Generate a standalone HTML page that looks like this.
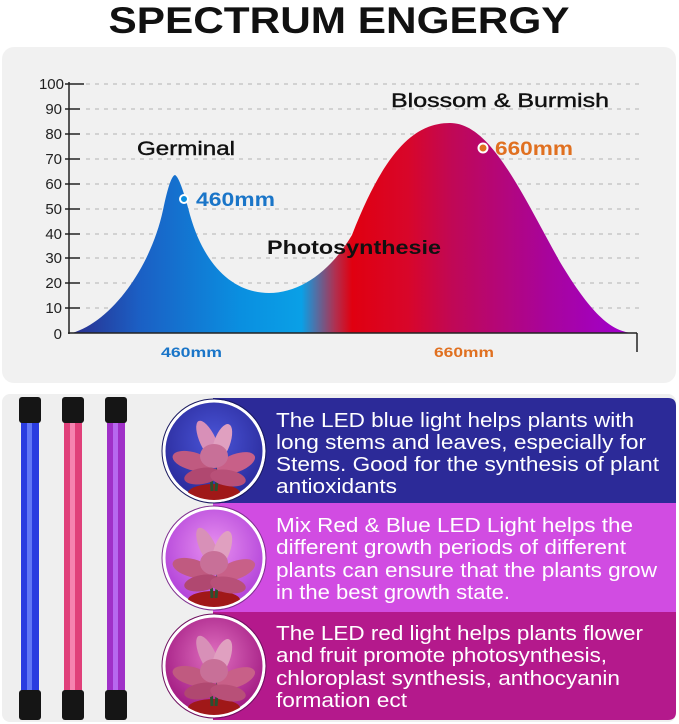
<!DOCTYPE html>
<html><head><meta charset="utf-8"><style>
html,body{margin:0;padding:0;background:#fff;width:679px;height:724px;overflow:hidden}
svg{display:block}
</style></head><body>
<svg width="679" height="724" viewBox="0 0 679 724" font-family="Liberation Sans, Arial, sans-serif">
<defs>
<linearGradient id="spec" x1="72" y1="0" x2="632" y2="0" gradientUnits="userSpaceOnUse">
<stop offset="0" stop-color="#2a2f8e"/>
<stop offset="0.12" stop-color="#1b5fc4"/>
<stop offset="0.3" stop-color="#0a8fe0"/>
<stop offset="0.41" stop-color="#0aa0e6"/>
<stop offset="0.47" stop-color="#b03050"/>
<stop offset="0.5" stop-color="#e00010"/>
<stop offset="0.6" stop-color="#d8062a"/>
<stop offset="0.68" stop-color="#c00856"/>
<stop offset="0.85" stop-color="#a8049c"/>
<stop offset="1" stop-color="#a000d0"/>
</linearGradient>
<radialGradient id="c1" cx="0.5" cy="0.4" r="0.6"><stop offset="0" stop-color="#4a55d8"/><stop offset="1" stop-color="#2a2a9a"/></radialGradient>
<radialGradient id="c2" cx="0.5" cy="0.4" r="0.6"><stop offset="0" stop-color="#e890f0"/><stop offset="1" stop-color="#b040d8"/></radialGradient>
<radialGradient id="c3" cx="0.5" cy="0.4" r="0.6"><stop offset="0" stop-color="#e070c0"/><stop offset="1" stop-color="#a01880"/></radialGradient>
<clipPath id="k1"><circle cx="214" cy="451" r="49"/></clipPath>
<clipPath id="k2"><circle cx="214" cy="558" r="49"/></clipPath>
<clipPath id="k3"><circle cx="214" cy="666" r="49"/></clipPath>
<g id="plant">
<ellipse cx="0" cy="42" rx="26" ry="9" fill="#a01818"/>
<path d="M-2,40 L-4,0 M2,40 L6,-5" stroke="#2a5030" stroke-width="3"/>
<ellipse cx="-22" cy="10" rx="20" ry="9" fill="#c05a80" transform="rotate(15 -22 10)"/>
<ellipse cx="22" cy="12" rx="20" ry="9" fill="#c86088" transform="rotate(-20 22 12)"/>
<ellipse cx="-12" cy="25" rx="18" ry="8" fill="#b04870" transform="rotate(-10 -12 25)"/>
<ellipse cx="14" cy="27" rx="18" ry="8" fill="#b85078" transform="rotate(10 14 27)"/>
<ellipse cx="-6" cy="-10" rx="8" ry="22" fill="#d890b8" transform="rotate(-25 -6 -10)"/>
<ellipse cx="8" cy="-8" rx="8" ry="20" fill="#e0a0c0" transform="rotate(20 8 -8)"/>
<ellipse cx="0" cy="5" rx="14" ry="12" fill="#c87098"/>
</g>
</defs>
<text x="339" y="33" text-anchor="middle" font-size="37" font-weight="bold" fill="#111" textLength="461" lengthAdjust="spacingAndGlyphs">SPECTRUM ENGERGY</text>
<rect x="2" y="47" width="674" height="336" rx="12" fill="#f1f1f1"/>
<g stroke="#c8c8c8" stroke-width="1.5" stroke-dasharray="4,5">
<line x1="86" y1="84" x2="639" y2="84"/><line x1="86" y1="109" x2="639" y2="109"/><line x1="86" y1="134" x2="639" y2="134"/><line x1="86" y1="159" x2="639" y2="159"/><line x1="86" y1="184" x2="639" y2="184"/><line x1="86" y1="209" x2="639" y2="209"/><line x1="86" y1="234" x2="639" y2="234"/><line x1="86" y1="258" x2="639" y2="258"/><line x1="86" y1="283" x2="639" y2="283"/><line x1="86" y1="308" x2="639" y2="308"/>
</g>
<path d="M72,333 C110,322 150,270 163,210 Q170,176 175,175 Q180,177 190,215 C205,268 235,293 269,293 C300,293 330,272 352,235 C385,150 415,123 450,123 C490,123 520,190 560,262 C590,312 610,331 632,333 Z" fill="url(#spec)"/>
<g stroke="#222" stroke-width="1.5">
<line x1="69" y1="82" x2="69" y2="334"/><line x1="68" y1="333" x2="637" y2="333"/><line x1="637" y1="333" x2="637" y2="352"/>
<line x1="65" y1="84" x2="84" y2="84"/><line x1="65" y1="109" x2="80" y2="109"/><line x1="65" y1="134" x2="80" y2="134"/><line x1="65" y1="159" x2="80" y2="159"/><line x1="65" y1="184" x2="80" y2="184"/><line x1="65" y1="209" x2="80" y2="209"/><line x1="65" y1="234" x2="80" y2="234"/><line x1="65" y1="258" x2="80" y2="258"/><line x1="65" y1="283" x2="80" y2="283"/><line x1="65" y1="308" x2="80" y2="308"/>
</g>
<g font-size="15" fill="#222" text-anchor="end">
<text x="64" y="89">100</text><text x="62" y="114">90</text><text x="62" y="139">80</text><text x="62" y="164">70</text><text x="62" y="189">60</text><text x="62" y="214">50</text><text x="62" y="239">40</text><text x="62" y="263">30</text><text x="62" y="288">20</text><text x="62" y="313">10</text><text x="62" y="339">0</text>
</g>
<text x="137" y="155" font-size="19" fill="#111" stroke="#111" stroke-width="0.4" textLength="98" lengthAdjust="spacingAndGlyphs">Germinal</text>
<text x="391" y="107" font-size="19" fill="#111" stroke="#111" stroke-width="0.4" textLength="218" lengthAdjust="spacingAndGlyphs">Blossom &amp; Burmish</text>
<text x="267" y="254" font-size="19" font-weight="bold" fill="#111" textLength="174" lengthAdjust="spacingAndGlyphs">Photosynthesie</text>
<circle cx="184" cy="199" r="4" fill="#0a8fe0" stroke="#fff" stroke-width="2"/>
<text x="196" y="206" font-size="19" font-weight="bold" fill="#1a75c8" textLength="79" lengthAdjust="spacingAndGlyphs">460mm</text>
<circle cx="483" cy="148" r="4.5" fill="#e07020" stroke="#fff" stroke-width="2"/>
<text x="495" y="155" font-size="19" font-weight="bold" fill="#e07020" textLength="78" lengthAdjust="spacingAndGlyphs">660mm</text>
<text x="161" y="357" font-size="14" font-weight="bold" fill="#1a75c8" textLength="61" lengthAdjust="spacingAndGlyphs">460mm</text>
<text x="434" y="357" font-size="14" font-weight="bold" fill="#e07020" textLength="60" lengthAdjust="spacingAndGlyphs">660mm</text>

<rect x="2" y="394" width="674" height="328" rx="8" fill="#efefef"/>
<g>
<rect x="21" y="420" width="18" height="272" fill="#2a3ce0"/><rect x="27" y="420" width="5" height="272" fill="#7a90ff" opacity="0.7"/>
<rect x="64" y="420" width="18" height="272" fill="#e0407a"/><rect x="70" y="420" width="5" height="272" fill="#ffa0c8" opacity="0.7"/>
<rect x="107" y="420" width="18" height="272" fill="#a030c8"/><rect x="113" y="420" width="5" height="272" fill="#c080ff" opacity="0.7"/>
<rect x="19" y="397" width="22" height="26" rx="3" fill="#151515"/><rect x="19" y="690" width="22" height="30" rx="3" fill="#151515"/>
<rect x="62" y="397" width="22" height="26" rx="3" fill="#151515"/><rect x="62" y="690" width="22" height="30" rx="3" fill="#151515"/>
<rect x="105" y="397" width="22" height="26" rx="3" fill="#151515"/><rect x="105" y="690" width="22" height="30" rx="3" fill="#151515"/>
</g>
<path d="M213,398 H668 Q676,398 676,406 V503 H213 Z" fill="#2c2a98"/>
<rect x="213" y="503" width="463" height="109" fill="#d14ce2"/>
<path d="M213,612 H676 V712 Q676,720 668,720 H213 Z" fill="#b4198c"/>
<circle cx="214" cy="451" r="50" fill="url(#c1)" stroke="#fff" stroke-width="3"/>
<circle cx="214" cy="558" r="50" fill="url(#c2)" stroke="#fff" stroke-width="3"/>
<circle cx="214" cy="666" r="50" fill="url(#c3)" stroke="#fff" stroke-width="3"/>
<g clip-path="url(#k1)"><use href="#plant" x="214" y="451"/></g>
<g clip-path="url(#k2)"><use href="#plant" x="214" y="558"/></g>
<g clip-path="url(#k3)"><use href="#plant" x="214" y="666"/></g>
<g fill="none" stroke-width="1"><circle cx="214" cy="451" r="52" stroke="#1a1a60"/><circle cx="214" cy="558" r="52" stroke="#803090"/><circle cx="214" cy="666" r="52" stroke="#701060"/></g>
<g font-size="20" fill="#fff">
<text x="276" y="427" textLength="358" lengthAdjust="spacingAndGlyphs">The LED blue light helps plants with</text>
<text x="276" y="449" textLength="370" lengthAdjust="spacingAndGlyphs">long stems and leaves, especially for</text>
<text x="276" y="471" textLength="383" lengthAdjust="spacingAndGlyphs">Stems. Good for the synthesis of plant</text>
<text x="276" y="493" textLength="121" lengthAdjust="spacingAndGlyphs">antioxidants</text>
<text x="276" y="532" textLength="357" lengthAdjust="spacingAndGlyphs">Mix Red &amp; Blue LED Light helps the</text>
<text x="276" y="554" textLength="350" lengthAdjust="spacingAndGlyphs">different growth periods of different</text>
<text x="276" y="577" textLength="381" lengthAdjust="spacingAndGlyphs">plants can ensure that the plants grow</text>
<text x="276" y="599" textLength="234" lengthAdjust="spacingAndGlyphs">in the best growth state.</text>
<text x="276" y="640" textLength="367" lengthAdjust="spacingAndGlyphs">The LED red light helps plants flower</text>
<text x="276" y="662" textLength="331" lengthAdjust="spacingAndGlyphs">and fruit promote photosynthesis,</text>
<text x="276" y="685" textLength="344" lengthAdjust="spacingAndGlyphs">chloroplast synthesis, anthocyanin</text>
<text x="276" y="707" textLength="131" lengthAdjust="spacingAndGlyphs">formation ect</text>
</g>
</svg>
</body></html>
